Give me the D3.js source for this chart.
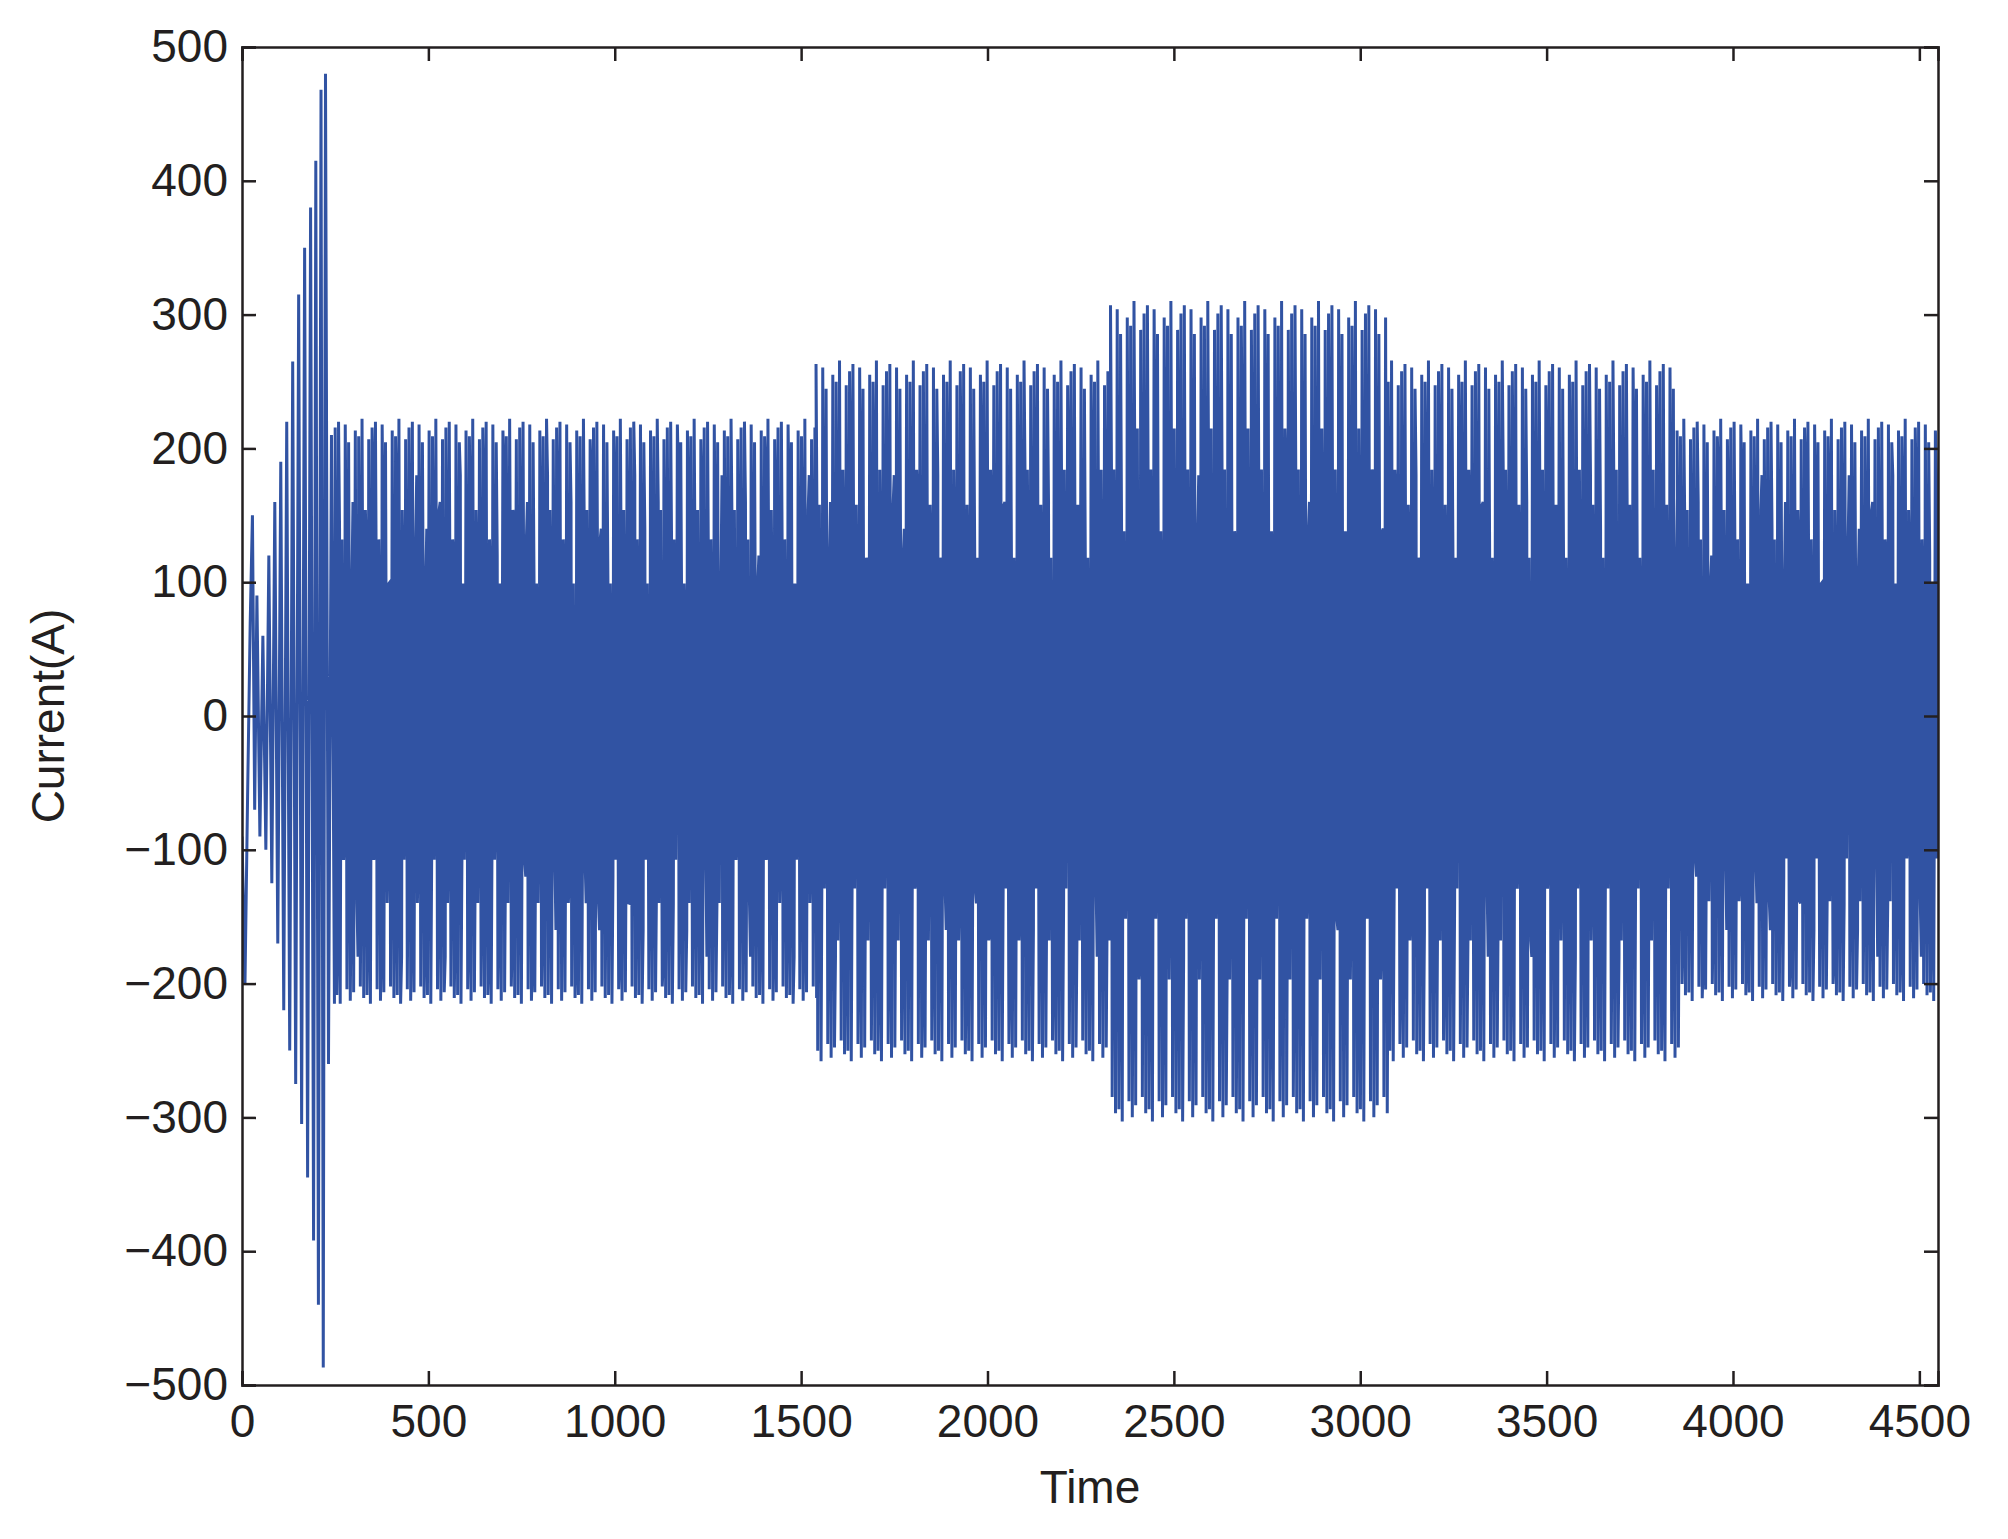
<!DOCTYPE html>
<html><head><meta charset="utf-8">
<script src="https://cdn.jsdelivr.net/npm/d3@7"></script>
<style>body{margin:0;background:#fff}text{font-family:"Liberation Sans",Arial,sans-serif;fill:#231f20}</style>
</head><body><svg id="c" width="2008" height="1539"></svg>
<script>
// startup transient peaks: [time, value]
var startPeaks = [[0,-90],[8,-200],[15,-60],[22,70],[28,150],[34,-70],[40,90],[48,-90],[56,60],[64,-100],[72,120],[80,-125],[88,160],[96,-170],[104,190],[112,-220],[120,220],[128,-250],[136,265],[144,-275],[152,315],[160,-305],[168,350],[176,-345],[184,380],[192,-392],[198,415],[205,-440],[212,468],[218,-487],[224,480],[232,-260],[240,210],[248,-215]];
// steady segments: start time, end time, upper peak, lower peak
var segStart = [250, 1540, 2330, 3075, 3850];
var segEnd   = [1540, 2330, 3075, 3850, 4550];
var segUpper = [220, 263, 307, 263, 220];
var segLower = [-215, -258, -303, -258, -213];
// repeating peak variation pattern and inner dips seen in the fill
var upVar  = [0.98, 1.0, 0.6, 0.99, 0.93, 0.45, 0.97, 0.95, 1.01, 0.7, 0.94];
var lowVar = [0.97, 1.0, 0.5, 0.95, 0.99, 0.96, 0.65, 0.94, 0.98];
var innerDip = [60, 140, -30, 100, 20, 160, -60, 90, 40, 120, -10, 180, 70];
var period = 9;

var svg = d3.select("#c");
var margin = {left: 242, right: 70, top: 47, bottom: 154};
var width = 2008 - margin.left - margin.right;
var height = 1539 - margin.top - margin.bottom;
var g = svg.append("g").attr("transform", `translate(${margin.left},${margin.top})`);

var x = d3.scaleLinear().domain([0, 4550]).range([0, width]);
var y = d3.scaleLinear().domain([-500, 500]).range([height, 0]);

// assemble waveform points
var pts = startPeaks.slice();
var k = 0;
segStart.forEach(function(s, i) {
  for (var t = s; t < segEnd[i]; t += period) {
    pts.push([t, segUpper[i] * upVar[k % upVar.length]]);
    pts.push([t + period * 0.3, innerDip[k % innerDip.length]]);
    pts.push([t + period * 0.5, segLower[i] * lowVar[k % lowVar.length]]);
    pts.push([t + period * 0.8, -innerDip[(k + 5) % innerDip.length]]);
    k++;
  }
});
pts = pts.filter(d => d[0] <= 4550);

g.append("defs").append("clipPath").attr("id", "clip").append("rect")
  .attr("width", width).attr("height", height);

g.append("path").datum(pts)
  .attr("clip-path", "url(#clip)")
  .attr("fill", "none").attr("stroke", "#3153a3").attr("stroke-width", 3)
  .attr("d", d3.line().x(d => x(d[0])).y(d => y(d[1])));

var xt = d3.range(0, 4501, 500), yt = d3.range(-500, 501, 100);
var fmt = d => d < 0 ? "\u2212" + Math.abs(d) : d;

var ax = g.append("g").attr("transform", `translate(0,${height})`)
  .call(d3.axisBottom(x).tickValues(xt).tickSize(-14).tickPadding(20).tickFormat(fmt));
var ay = g.append("g")
  .call(d3.axisLeft(y).tickValues(yt).tickSize(-14).tickPadding(14).tickFormat(fmt));
g.append("g").call(d3.axisTop(x).tickValues(xt).tickSize(-14).tickFormat(""));
g.append("g").attr("transform", `translate(${width},0)`)
  .call(d3.axisRight(y).tickValues(yt).tickSize(-14).tickFormat(""));
svg.selectAll(".domain, .tick line").attr("stroke", "#231f20").attr("stroke-width", 2.5);
svg.selectAll(".tick text").style("font-size", "46px").attr("fill", "#231f20");
ax.selectAll(".tick text").attr("dy", "0.7em");

g.append("text").attr("x", width / 2).attr("y", height + 118)
  .attr("text-anchor", "middle").style("font-size", "46px").text("Time");
g.append("text").attr("transform", "rotate(-90)")
  .attr("x", -height / 2).attr("y", -210).attr("dy", "0.7em")
  .attr("text-anchor", "middle").style("font-size", "46px").text("Current(A)");
</script></body></html>
